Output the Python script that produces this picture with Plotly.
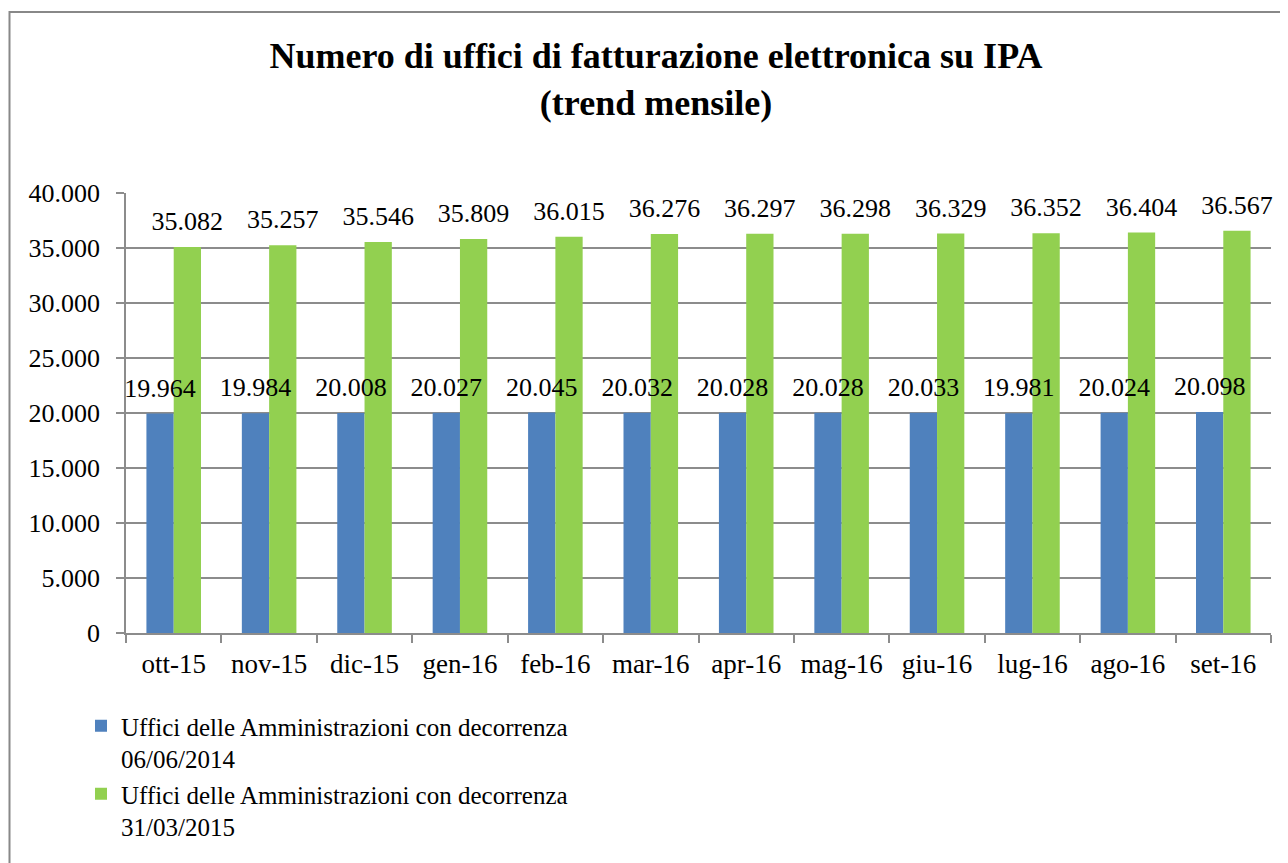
import plotly.graph_objects as go

categories = ["ott-15", "nov-15", "dic-15", "gen-16", "feb-16", "mar-16",
              "apr-16", "mag-16", "giu-16", "lug-16", "ago-16", "set-16"]
serie_2014 = [19964, 19984, 20008, 20027, 20045, 20032, 20028, 20028, 20033, 19981, 20024, 20098]
serie_2015 = [35082, 35257, 35546, 35809, 36015, 36276, 36297, 36298, 36329, 36352, 36404, 36567]
name_2014 = "Uffici delle Amministrazioni con decorrenza<br>06/06/2014"
name_2015 = "Uffici delle Amministrazioni con decorrenza<br>31/03/2015"
title_text = "Numero di uffici di fatturazione elettronica su IPA<br>(trend mensile)"

FONT = "Liberation Serif"
OFF = 8                       # page body margin of the html page
W, H = 1288 - OFF, 863 - OFF  # figure size so it fits the window exactly
# target page pixels -> figure pixels
PL, PR, PT, PB = 126 - OFF, 1271 - OFF, 193 - OFF, 633 - OFF
ML, MR, MT, MB = PL, W - PR, PT, H - PB
pw = PR - PL
ph = PB - PT
GAP = 0.428

BLUE = "#4F81BD"
GREEN = "#92D050"
GRID = "#8c8c8c"

fig = go.Figure()
fig.add_trace(go.Bar(
    x=categories, y=serie_2014, name=name_2014,
    marker=dict(color=BLUE, line=dict(width=0)),
))
fig.add_trace(go.Bar(
    x=categories, y=serie_2015, name=name_2015,
    marker=dict(color=GREEN, line=dict(width=0)),
))
# data labels (drawn above all bars)
for vals in (serie_2014, serie_2015):
    fig.add_trace(go.Scatter(
        x=categories, y=vals, mode="markers+text",
        marker=dict(size=15, opacity=0, color="white"),
        texttemplate="%{y:,.0f}", textposition="top center",
        textfont=dict(family=FONT, size=26, color="black"),
        cliponaxis=False, showlegend=False, hoverinfo="skip",
    ))

fig.update_layout(
    width=W, height=H,
    margin=dict(l=ML, r=MR, t=MT, b=MB, pad=0),
    paper_bgcolor="white", plot_bgcolor="white",
    barmode="group", bargap=GAP, bargroupgap=0,
    scattermode="group", scattergap=GAP,
    separators=",.",
    font=dict(family=FONT, size=26, color="black"),
    title=dict(text="<b>" + title_text + "</b>", x=(656 - OFF) / W, xanchor="center",
               xref="container", yref="container", y=1 - (60 - OFF + 8) / H, yanchor="top",
               font=dict(family=FONT, size=36, color="black")),
    showlegend=True,
    legend=dict(orientation="v", x=(114 - 41 - PL) / pw, xanchor="left",
                y=(PB - (728 - OFF - 25)) / ph, yanchor="top", valign="top",
                font=dict(family=FONT, size=25, color="black"),
                bgcolor="rgba(0,0,0,0)", tracegroupgap=1,
                traceorder="normal"),
    xaxis=dict(type="category", range=[-0.5, 11.5], tickson="boundaries",
               ticks="outside", ticklen=8, tickcolor=GRID, tickwidth=1.5,
               showline=True, linecolor=GRID, linewidth=1.5,
               showgrid=False, tickfont=dict(family=FONT, size=27, color="black"),
               ticklabelstandoff=6),
    yaxis=dict(range=[0, 40000], dtick=5000, tickformat=",.0f",
               ticks="outside", ticklen=8, tickcolor=GRID, tickwidth=1.5,
               showline=True, linecolor=GRID, linewidth=1.5,
               showgrid=True, gridcolor=GRID, gridwidth=1.5,
               zeroline=False, tickfont=dict(family=FONT, size=26, color="black"),
               ticklabelstandoff=11),
)

# outer chart frame (runs off the right and bottom edges, as in the original)
fig.add_shape(type="rect", xref="paper", yref="paper",
              x0=(9.5 - OFF - PL) / pw, x1=(W + 20 - PL) / pw,
              y0=(PB - (H + 20)) / ph, y1=(PB - (12 - OFF)) / ph,
              line=dict(color="#888888", width=2), fillcolor="rgba(0,0,0,0)",
              layer="below")

fig.write_html("out.html")
